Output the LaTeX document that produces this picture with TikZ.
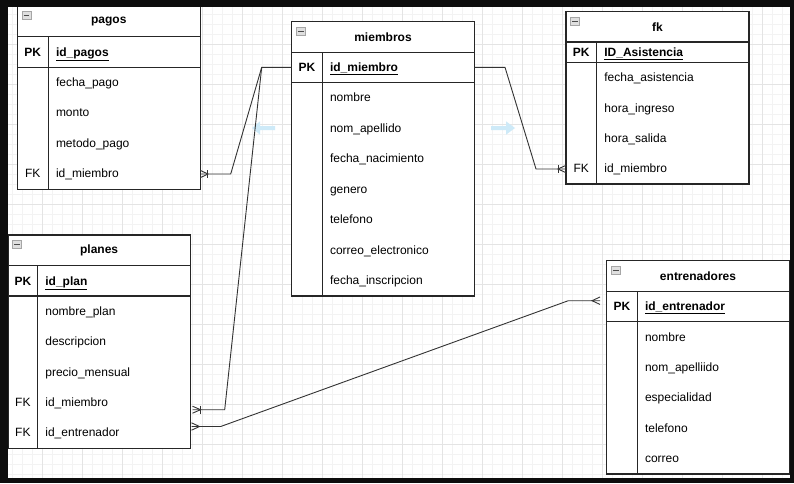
\documentclass[tikz,border=0pt]{standalone}
\usepackage{fontspec}
\setmainfont{Liberation Sans}
\definecolor{hoverblue}{RGB}{206,234,248}
\definecolor{gridmin}{RGB}{243,243,243}
\definecolor{gridmaj}{RGB}{228,228,228}
\tikzset{
  tbl/.style={draw=black!85, line width=1.1pt, fill=white, inner sep=0pt, outer sep=0pt, anchor=north west},
  sepline/.style={draw=black!85, line width=1.1pt},
  ttl/.style={font=\bfseries\fontsize{12}{14}\selectfont, inner sep=0pt},
  fld/.style={font=\fontsize{12}{14}\selectfont, inner sep=0pt, anchor=base west},
  pfld/.style={font=\bfseries\fontsize{12}{14}\selectfont, inner sep=0pt, anchor=base west},
  keylbl/.style={font=\fontsize{12}{14}\selectfont, inner sep=0pt, anchor=base},
  pkeylbl/.style={font=\bfseries\fontsize{12}{14}\selectfont, inner sep=0pt, anchor=base},
  iconbox/.style={draw=gray!70, fill=gray!25, line width=0.6pt, minimum width=9pt, minimum height=8pt, inner sep=0pt},
  conn/.style={draw=black!80, line width=0.9pt},
  gmin/.style={draw=gridmin, line width=0.8pt},
  gmaj/.style={draw=gridmaj, line width=0.8pt},
}
% #1 name, #2 L, #3 R, #4 T, #5 H, #6 P, #7 B, #8 D, #9 title
\newcommand\ertbl[9]{%
  \pgfmathsetmacro\ertw{#3-#2}\pgfmathsetmacro\erth{#7-#4}%
  \node[tbl, minimum width=\ertw pt, minimum height=\erth pt] (#1) at (#2,#4) {};
  \draw[sepline] (#2,#5) -- (#3,#5) (#2,#6) -- (#3,#6) (#8,#5) -- (#8,#7);
  \node[ttl] (#1-title) at ({(#2+#3)/2},{(#4+#5)/2}) {#9};
  \node[iconbox] (#1-icon) at ({#2+9},{#4+9.5}) {};
  \draw[black!70, line width=1pt] ([xshift=2pt]#1-icon.west) -- ([xshift=-2pt]#1-icon.east);
}
\begin{document}
\begin{tikzpicture}[x=1pt,y=-1pt]
\useasboundingbox (0,0) rectangle (794,483);
\fill[black!95] (0,0) rectangle (794,483);
\fill[white] (8,7) rectangle (790,477.5);
\begin{scope}
\clip (8,7) rectangle (790,477.5);
% grid
\foreach \k in {0,...,78} { \draw[gmin] ({2+10*\k},7) -- ({2+10*\k},478); }
\foreach \k in {0,...,47} { \draw[gmin] (8,{4+10*\k}) -- (790,{4+10*\k}); }
\foreach \k in {0,...,19} { \draw[gmaj] ({2+40*\k},7) -- ({2+40*\k},478); }
\foreach \k in {0,...,11} { \draw[gmaj] (8,{4+40*\k}) -- (790,{4+40*\k}); }
% hover arrows
\fill[hoverblue] (275,126) -- (260,126) -- (260,121.3) -- (252,128) -- (260,134.7) -- (260,130) -- (275,130) -- cycle;
\fill[hoverblue] (491,126) -- (506,126) -- (506,121.3) -- (515,128) -- (506,134.7) -- (506,130) -- (491,130) -- cycle;

% ---------- pagos
\ertbl{pagos}{17.3}{200.3}{6}{36.7}{67.3}{189.3}{48.3}{pagos}
\node[pkeylbl] (pagos-pk) at (32.8,56) {PK};
\node[pfld] (pagos-f0) at (55.8,56) {\underline{id\_pagos}};
\node[fld] (pagos-f1) at (55.8,86) {fecha\_pago};
\node[fld] (pagos-f2) at (55.8,116.5) {monto};
\node[fld] (pagos-f3) at (55.8,147) {metodo\_pago};
\node[keylbl] (pagos-fk) at (32.8,177.5) {FK};
\node[fld] (pagos-f4) at (55.8,177.5) {id\_miembro};

% ---------- miembros
\ertbl{miembros}{291.7}{474.3}{21.7}{52.3}{82.7}{296}{322.3}{miembros}
\node[pkeylbl] (miembros-pk) at (307,71.5) {PK};
\node[pfld] (miembros-f0) at (329.8,71.5) {\underline{id\_miembro}};
\node[fld] (miembros-f1) at (329.8,101.5) {nombre};
\node[fld] (miembros-f2) at (329.8,132) {nom\_apellido};
\node[fld] (miembros-f3) at (329.8,162.5) {fecha\_nacimiento};
\node[fld] (miembros-f4) at (329.8,193) {genero};
\node[fld] (miembros-f5) at (329.8,223.5) {telefono};
\node[fld] (miembros-f6) at (329.8,254) {correo\_electronico};
\node[fld] (miembros-f7) at (329.8,284.5) {fecha\_inscripcion};

% ---------- fk
\ertbl{fk}{566}{749}{11.7}{42}{62.3}{184}{596.7}{fk}
\node[pkeylbl] (fk-pk) at (581.3,56) {PK};
\node[pfld] (fk-f0) at (604.2,56) {\underline{ID\_Asistencia}};
\node[fld] (fk-f1) at (604.2,81.5) {fecha\_asistencia};
\node[fld] (fk-f2) at (604.2,112) {hora\_ingreso};
\node[fld] (fk-f3) at (604.2,142.3) {hora\_salida};
\node[keylbl] (fk-fk) at (581.3,172.7) {FK};
\node[fld] (fk-f4) at (604.2,172.7) {id\_miembro};

% ---------- planes
\ertbl{planes}{8}{190.3}{235}{265.7}{296}{448.7}{37.7}{planes}
\node[pkeylbl] (planes-pk) at (22.9,285) {PK};
\node[pfld] (planes-f0) at (45.2,285) {\underline{id\_plan}};
\node[fld] (planes-f1) at (45.2,315) {nombre\_plan};
\node[fld] (planes-f2) at (45.2,345.5) {descripcion};
\node[fld] (planes-f3) at (45.2,376) {precio\_mensual};
\node[keylbl] (planes-fk1) at (22.9,406.3) {FK};
\node[fld] (planes-f4) at (45.2,406.3) {id\_miembro};
\node[keylbl] (planes-fk2) at (22.9,436.7) {FK};
\node[fld] (planes-f5) at (45.2,436.7) {id\_entrenador};

% ---------- entrenadores
\ertbl{entrenadores}{606.7}{789.3}{260.7}{291.3}{321.7}{474}{637.3}{entrenadores}
\node[pkeylbl] (entrenadores-pk) at (622,310.5) {PK};
\node[pfld] (entrenadores-f0) at (644.8,310.5) {\underline{id\_entrenador}};
\node[fld] (entrenadores-f1) at (644.8,341) {nombre};
\node[fld] (entrenadores-f2) at (644.8,371.3) {nom\_apelliido};
\node[fld] (entrenadores-f3) at (644.8,401.7) {especialidad};
\node[fld] (entrenadores-f4) at (644.8,432) {telefono};
\node[fld] (entrenadores-f5) at (644.8,462.3) {correo};

% ---------- connector end points
\coordinate (pagosfkpt) at (200.3,174);
\coordinate (miembrospkw) at (291.7,67.3);
\coordinate (miembrospke) at (474.3,67.3);
\coordinate (fkfkpt) at (566,169);
\coordinate (planesfk1pt) at (192.5,409.7);
\coordinate (planesfk2pt) at (191.5,426.5);
\coordinate (entrpkpt) at (600,300.7);
\coordinate (j1) at (261.7,67.3);

% pagos -> miembros
\draw[conn] (pagosfkpt) -- (230.7,174) -- (j1) -- (miembrospkw);
\draw[conn] ([shift={(0,-3.7)}]pagosfkpt) -- ([shift={(7.5,0)}]pagosfkpt) -- ([shift={(0,3.7)}]pagosfkpt);
\draw[conn] ([shift={(7.5,-4)}]pagosfkpt) -- ([shift={(7.5,4)}]pagosfkpt);

% planes.id_miembro -> miembros
\draw[conn] (planesfk1pt) -- (224.7,409.7) -- (j1);
\draw[conn] ([shift={(0,-3.5)}]planesfk1pt) -- ([shift={(8,0)}]planesfk1pt) -- ([shift={(0,3.5)}]planesfk1pt);
\draw[conn] ([shift={(8,-4)}]planesfk1pt) -- ([shift={(8,4)}]planesfk1pt);

% planes.id_entrenador -> entrenadores
\draw[conn] (planesfk2pt) -- (220.7,426.5) -- (568.3,300.7) -- (entrpkpt);
\draw[conn] ([shift={(0,-3.7)}]planesfk2pt) -- ([shift={(8,0)}]planesfk2pt) -- ([shift={(0,3.7)}]planesfk2pt);
\draw[conn] ([shift={(0,-3.7)}]entrpkpt) -- ([shift={(-8,0)}]entrpkpt) -- ([shift={(0,3.7)}]entrpkpt);

% miembros -> fk
\draw[conn] (miembrospke) -- (505,67.3) -- (536,169) -- (fkfkpt);
\draw[conn] ([shift={(0,-3.7)}]fkfkpt) -- ([shift={(-8,0)}]fkfkpt) -- ([shift={(0,3.7)}]fkfkpt);
\draw[conn] ([shift={(-8,-4)}]fkfkpt) -- ([shift={(-8,4)}]fkfkpt);
\end{scope}
\end{tikzpicture}
\end{document}
